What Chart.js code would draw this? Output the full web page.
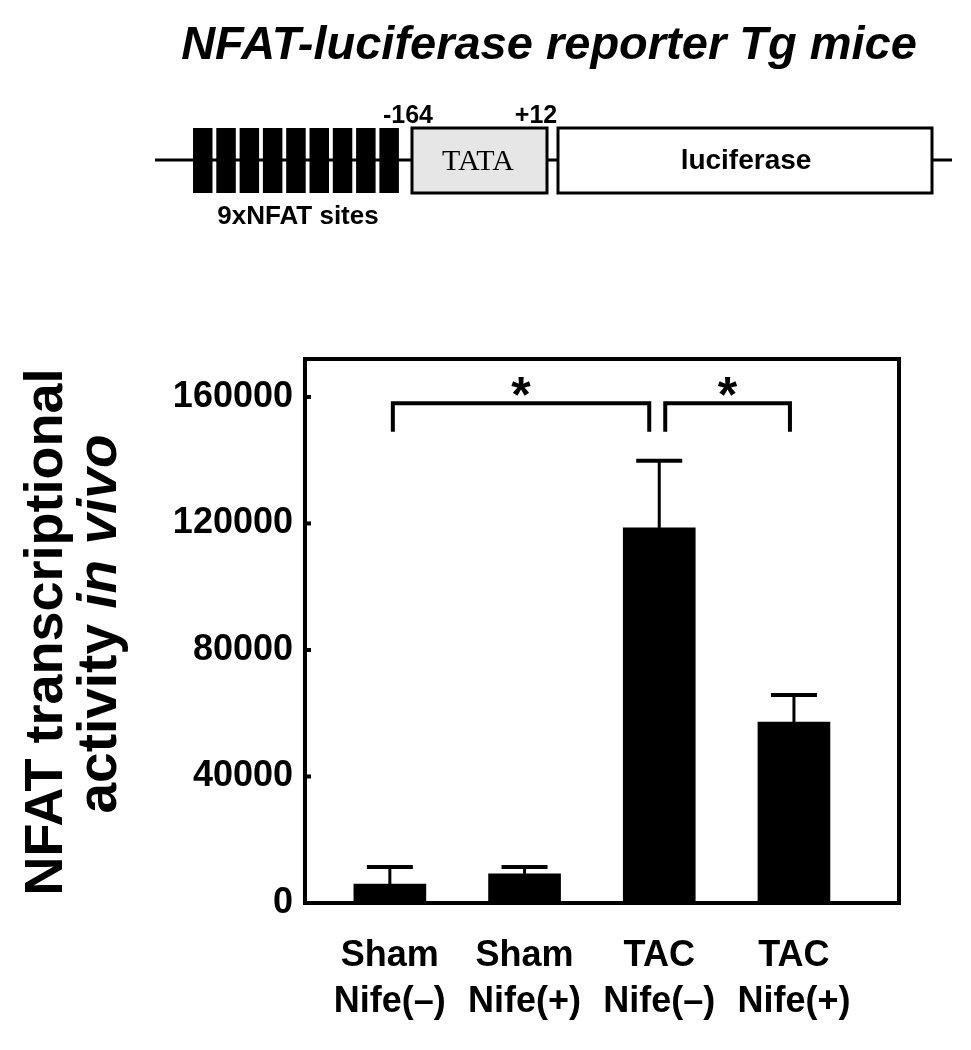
<!DOCTYPE html>
<html>
<head>
<meta charset="utf-8">
<script src="https://cdn.jsdelivr.net/npm/chart.js@4"></script>
<style>
  body { margin: 0; background: #fff; }
</style>
</head>
<body>
<canvas id="myChart" width="971" height="1050"></canvas>
<script>
const groups = [["Sham", "Nife(\u2013)"], ["Sham", "Nife(+)"], ["TAC", "Nife(\u2013)"], ["TAC", "Nife(+)"]];
const means = [6000, 9200, 118600, 57200];
const sems = [5400, 2200, 21200, 8600];
const yTicks = [0, 40000, 80000, 120000, 160000];
// pairs of bar indices marked as significant
const pairs = [[0, 2], [2, 3]];
const bracketTop = 158000;
const bracketFoot = 149000;

const FONT = '"Liberation Sans", Arial, sans-serif';

const extras = {
  id: "extras",
  beforeDraw(chart) {
    const ctx = chart.ctx;
    ctx.save();
    ctx.fillStyle = "#fff";
    ctx.fillRect(0, 0, chart.width, chart.height);
    ctx.restore();
  },
  afterDatasetsDraw(chart) {
    const ctx = chart.ctx;
    const x = chart.scales.x;
    const y = chart.scales.y;
    const area = chart.chartArea;
    ctx.save();
    ctx.strokeStyle = "#000";
    ctx.fillStyle = "#000";

    // error bars
    means.forEach((m, i) => {
      const px = x.getPixelForValue(i + 1);
      const top = y.getPixelForValue(m + sems[i]);
      ctx.lineWidth = 3;
      ctx.beginPath();
      ctx.moveTo(px, y.getPixelForValue(m));
      ctx.lineTo(px, top);
      ctx.stroke();
      ctx.lineWidth = 4;
      ctx.beginPath();
      ctx.moveTo(px - 23, top);
      ctx.lineTo(px + 23, top);
      ctx.stroke();
    });

    // frame
    ctx.lineWidth = 4;
    ctx.strokeRect(area.left, area.top, area.right - area.left, area.bottom - area.top);

    // inner y ticks
    yTicks.slice(1).forEach(v => {
      const py = y.getPixelForValue(v);
      ctx.beginPath();
      ctx.moveTo(area.left, py);
      ctx.lineTo(area.left + 6, py);
      ctx.stroke();
    });

    // significance brackets
    const yt = y.getPixelForValue(bracketTop);
    const yf = y.getPixelForValue(bracketFoot);
    pairs.forEach((p, k) => {
      let x1 = x.getPixelForValue(p[0] + 1);
      let x2 = x.getPixelForValue(p[1] + 1);
      if (k === 0) { x1 += 3; x2 -= 10; } else { x1 += 6; x2 -= 4; }
      ctx.lineWidth = 4;
      ctx.beginPath();
      ctx.moveTo(x1, yf);
      ctx.lineTo(x1, yt);
      ctx.lineTo(x2, yt);
      ctx.lineTo(x2, yf);
      ctx.stroke();
      ctx.font = "bold 50px " + FONT;
      ctx.textAlign = "center";
      ctx.textBaseline = "middle";
      ctx.fillText("*", (x1 + x2) / 2, yt - 5);
    });

    // y axis title
    ctx.save();
    ctx.translate(0, 632);
    ctx.rotate(-Math.PI / 2);
    ctx.textAlign = "center";
    ctx.textBaseline = "middle";
    ctx.font = "bold 54px " + FONT;
    ctx.fillText("NFAT transcriptional", 0, 47);
    const a = "activity ";
    const b = "in vivo";
    ctx.font = "bold 55px " + FONT;
    const wa = ctx.measureText(a).width;
    ctx.font = "italic bold 55px " + FONT;
    const wb = ctx.measureText(b).width;
    const sx = -(wa + wb) / 2 + 8;
    ctx.textAlign = "left";
    ctx.font = "bold 55px " + FONT;
    ctx.fillText(a, sx, 101);
    ctx.font = "italic bold 55px " + FONT;
    ctx.fillText(b, sx + wa, 101);
    ctx.restore();

    // heading
    ctx.textAlign = "center";
    ctx.textBaseline = "middle";
    ctx.font = "italic bold 47px " + FONT;
    ctx.fillText("NFAT-luciferase reporter Tg mice", 549, 46);

    // construct diagram
    ctx.lineWidth = 3;
    ctx.beginPath();
    ctx.moveTo(155, 160);
    ctx.lineTo(952, 160);
    ctx.stroke();
    for (let i = 0; i < 9; i++) {
      ctx.fillRect(193 + i * 23.3, 128, 19.5, 65);
    }
    ctx.fillStyle = "#e6e6e6";
    ctx.fillRect(412, 128, 135, 65);
    ctx.fillStyle = "#fff";
    ctx.fillRect(558, 128, 374, 65);
    ctx.strokeRect(412, 128, 135, 65);
    ctx.strokeRect(558, 128, 374, 65);
    ctx.fillStyle = "#000";
    ctx.font = "bold 25px " + FONT;
    ctx.fillText("-164", 408, 116);
    ctx.fillText("+12", 536, 116);
    ctx.font = "bold 26px " + FONT;
    ctx.fillText("9xNFAT sites", 298, 217);
    ctx.font = '30px "Liberation Serif", serif';
    ctx.fillText("TATA", 478, 162);
    ctx.font = "bold 28px " + FONT;
    ctx.fillText("luciferase", 746, 161);

    ctx.restore();
  }
};

new Chart(document.getElementById("myChart"), {
  type: "bar",
  data: {
    datasets: [
      {
        data: means.map((m, i) => ({ x: i + 1, y: m })),
        backgroundColor: "#000",
        borderWidth: 0,
        barThickness: 72,
      },
    ],
  },
  options: {
    responsive: false,
    animation: false,
    layout: { padding: { left: 0, right: 72, top: 359, bottom: 0 } },
    plugins: {
      legend: { display: false },
      tooltip: { enabled: false },
    },
    scales: {
      x: {
        type: "linear",
        offset: false,
        min: 0.37,
        max: 4.78,
        grid: { display: false, drawTicks: false },
        border: { display: false },
        afterBuildTicks: (s) => { s.ticks = groups.map((g, i) => ({ value: i + 1 })); },
        afterFit: (s) => { s.height = 147; },
        ticks: {
          color: "#000",
          padding: 30,
          maxRotation: 0,
          autoSkip: false,
          font: { family: FONT, size: 36, weight: "bold", lineHeight: 1.27 },
          callback: (v) => groups[v - 1] || "",
        },
      },
      y: {
        min: 0,
        max: 172000,
        grid: { display: false, drawTicks: false },
        border: { display: false },
        afterBuildTicks: (s) => { s.ticks = yTicks.map(v => ({ value: v })); },
        afterFit: (s) => { s.width = 305; },
        ticks: {
          color: "#000",
          padding: 12,
          font: { family: FONT, size: 36, weight: "bold" },
          callback: (v) => String(v),
        },
      },
    },
  },
  plugins: [extras],
});
</script>
</body>
</html>
